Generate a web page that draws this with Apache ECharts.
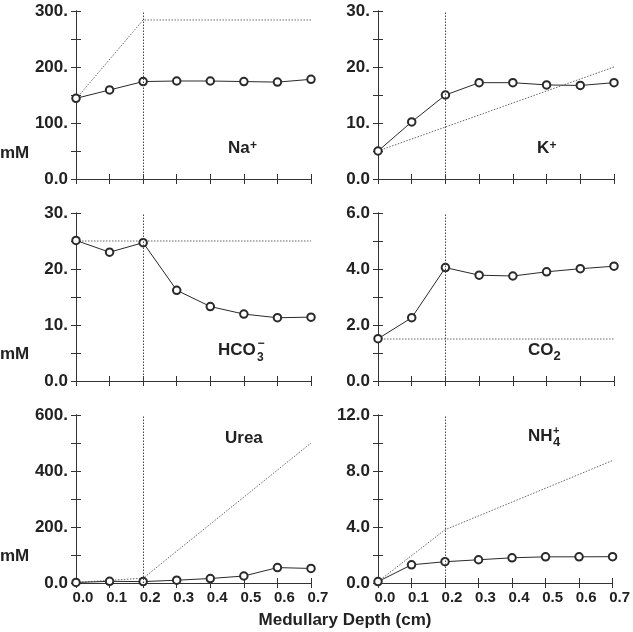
<!DOCTYPE html>
<html>
<head>
<meta charset="utf-8">
<title>Medullary profiles</title>
<script src="https://cdn.jsdelivr.net/npm/echarts@6/dist/echarts.min.js"></script>
<style>
  html, body { margin: 0; padding: 0; background: #fff; }
  #main { width: 633px; height: 632px; }
</style>
</head>
<body>
<div id="main"></div>
<script>
// depth along the medulla (cm)
var depth = [0, 0.1, 0.2, 0.3, 0.4, 0.5, 0.6, 0.7];
var depthTicks = ['0.0', '0.1', '0.2', '0.3', '0.4', '0.5', '0.6', '0.7'];
var boundary = 0.2;

// tubule values (circles)
var naTube = [144, 159, 174, 175, 175, 174, 173, 178];
var kTube = [5, 10.2, 15, 17.2, 17.2, 16.8, 16.7, 17.2];
var hco3Tube = [25.1, 23.0, 24.7, 16.2, 13.3, 11.95, 11.3, 11.4];
var co2Tube = [1.51, 2.26, 4.05, 3.78, 3.75, 3.9, 4.01, 4.1];
var ureaTube = [2, 6, 5, 10, 16, 25, 55, 52];
var nh4Tube = [0.1, 1.3, 1.52, 1.66, 1.8, 1.87, 1.87, 1.88];

// interstitial reference lines (dotted)
var naRefX = [0, 0.2, 0.7], naRefY = [143, 284, 284];
var kRefX = [0, 0.7], kRefY = [5, 20];
var hco3RefX = [0, 0.7], hco3RefY = [25, 25];
var co2RefX = [0, 0.7], co2RefY = [1.5, 1.5];
var ureaRefX = [0, 0.2, 0.7], ureaRefY = [2, 17, 500];
var nh4RefX = [0, 0.2, 0.7], nh4RefY = [0.1, 3.8, 8.75];

// y tick labels
var naTicks = ['0.0', '100.', '200.', '300.'];
var kTicks = ['0.0', '10.', '20.', '30.'];
var hco3Ticks = ['0.0', '10.', '20.', '30.'];
var co2Ticks = ['0.0', '2.0', '4.0', '6.0'];
var ureaTicks = ['0.0', '200.', '400.', '600.'];
var nh4Ticks = ['0.0', '4.0', '8.0', '12.0'];

function pairs(xs, ys) {
    var out = [];
    for (var i = 0; i < xs.length; i++) out.push([xs[i], ys[i]]);
    return out;
}

var panels = [
    { tube: naTube, refX: naRefX, refY: naRefY, ticks: naTicks, step: 100 },
    { tube: kTube, refX: kRefX, refY: kRefY, ticks: kTicks, step: 10 },
    { tube: hco3Tube, refX: hco3RefX, refY: hco3RefY, ticks: hco3Ticks, step: 10 },
    { tube: co2Tube, refX: co2RefX, refY: co2RefY, ticks: co2Ticks, step: 2 },
    { tube: ureaTube, refX: ureaRefX, refY: ureaRefY, ticks: ureaTicks, step: 200 },
    { tube: nh4Tube, refX: nh4RefX, refY: nh4RefY, ticks: nh4Ticks, step: 4 }
];

var colLeft = [76, 378];
var colWidth = [235, 236];
var rowTop = [11, 213, 415];
var rowHeight = 168;
var ink = '#222';
var frame = '#333';

var grids = [], xAxes = [], yAxes = [], series = [];

panels.forEach(function (p, i) {
    var col = i % 2, row = Math.floor(i / 2);
    var bottomRow = row === 2;
    grids.push({ left: colLeft[col], top: rowTop[row], width: colWidth[col], height: rowHeight });

    var xBase = {
        type: 'value', gridIndex: i, min: 0, max: 0.7, interval: 0.1,
        axisLine: { show: true, lineStyle: { color: frame, width: 1 } },
        axisTick: { show: true, inside: true, length: 5, lineStyle: { color: frame } },
        splitLine: { show: false }
    };
    // bottom x axis
    xAxes.push(Object.assign({}, xBase, {
        position: 'bottom',
        axisLabel: {
            show: bottomRow, margin: 7, padding: [0, 0, 0, 14],
            color: ink, fontSize: 15, fontWeight: 'bold', fontFamily: 'Liberation Sans, Arial',
            formatter: function (v) { return depthTicks[Math.round(v * 10)]; }
        }
    }));
    // top x axis (ticks only)
    xAxes.push(Object.assign({}, xBase, { position: 'top', axisLabel: { show: false } }));

    var ymax = p.step * (p.ticks.length - 1);
    var yBase = {
        type: 'value', gridIndex: i, min: 0, max: ymax, interval: p.step,
        axisLine: { show: true, lineStyle: { color: frame, width: 1 } },
        axisTick: { show: true, inside: true, length: 5, lineStyle: { color: frame } },
        minorTick: { show: true, splitNumber: 2, length: 5, lineStyle: { color: frame } },
        splitLine: { show: false },
        minorSplitLine: { show: false }
    };
    yAxes.push(Object.assign({}, yBase, {
        position: 'left',
        axisLabel: {
            margin: 8, color: ink, fontSize: 17, fontWeight: 'bold', fontFamily: 'Liberation Sans, Arial',
            formatter: function (v) { return p.ticks[Math.round(v / p.step)]; }
        }
    }));
    yAxes.push(Object.assign({}, yBase, { position: 'right', axisLabel: { show: false } }));

    // dotted reference + vertical boundary
    series.push({
        type: 'line', xAxisIndex: i * 2, yAxisIndex: i * 2,
        data: pairs(p.refX, p.refY),
        showSymbol: false, silent: true, z: 2,
        lineStyle: { color: '#666', width: 1, type: [1.5, 1.5] },
        markLine: {
            silent: true, symbol: 'none', label: { show: false },
            lineStyle: { color: '#444', width: 1, type: [1.5, 1.5] },
            data: [{ xAxis: boundary }]
        }
    });
    // tubule data
    series.push({
        type: 'line', xAxisIndex: i * 2, yAxisIndex: i * 2,
        data: pairs(depth, p.tube),
        symbol: 'emptyCircle', symbolSize: 7.5, z: 3,
        lineStyle: { color: '#2a2a2a', width: 1 },
        itemStyle: { color: '#2a2a2a', borderColor: '#2a2a2a', borderWidth: 0.9 }
    });
});

function txt(x, y, s, size, align) {
    return {
        type: 'text', x: x, y: y, silent: true,
        style: {
            text: s, fill: ink,
            font: 'bold ' + size + 'px "Liberation Sans", Arial, sans-serif',
            textAlign: align || 'left', textVerticalAlign: 'middle',
            align: align || 'left', verticalAlign: 'middle'
        }
    };
}

var labels = [
    txt(0, 153, 'mM', 17), txt(0, 354, 'mM', 17), txt(0, 556, 'mM', 17),
    // Na+
    txt(228, 148.5, 'Na', 17), txt(250, 146, '+', 12),
    // K+
    txt(537, 148.5, 'K', 17), txt(549.5, 146, '+', 12),
    // HCO3-
    txt(218, 350, 'HCO', 17), txt(257, 357.5, '3', 12), txt(257.5, 344, '\u2212', 12),
    // CO2
    txt(528, 350.5, 'CO', 17), txt(553.5, 356, '2', 13),
    // Urea
    txt(225, 438.5, 'Urea', 17),
    // NH4+
    txt(528, 436, 'NH', 17), txt(553, 430.5, '+', 11), txt(553, 442, '4', 13),
    // x axis name
    txt(345, 620, 'Medullary Depth (cm)', 17, 'center')
];

var myChart = echarts.init(document.getElementById('main'), null, { renderer: 'canvas' });
var option = {
    backgroundColor: '#fff',
    animation: false,
    grid: grids,
    xAxis: xAxes,
    yAxis: yAxes,
    series: series,
    graphic: labels
};
myChart.setOption(option);
</script>
</body>
</html>
